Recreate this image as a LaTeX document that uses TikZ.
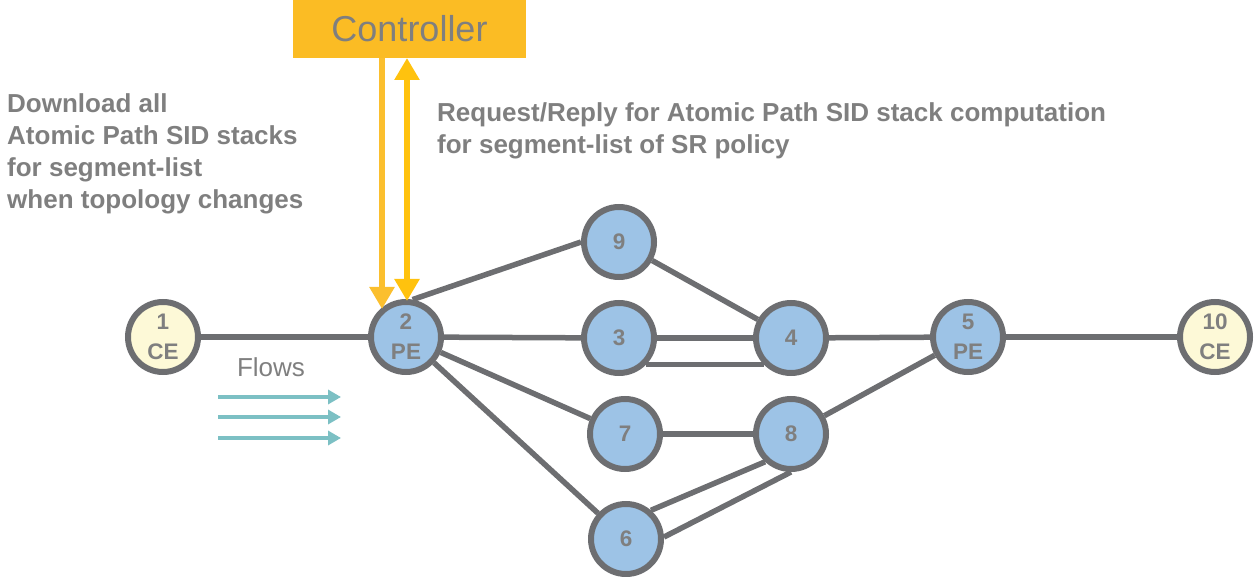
\documentclass[tikz,border=0pt]{standalone}
\usepackage{fontspec}
\setmainfont{Liberation Sans}
\usetikzlibrary{arrows.meta}
\definecolor{edgegray}{HTML}{6D6E71}
\definecolor{txtgray}{HTML}{7F7F7F}
\definecolor{nodeblue}{HTML}{9DC3E6}
\definecolor{nodecream}{HTML}{FDF9D7}
\definecolor{ctrlfill}{HTML}{FBBC24}
\definecolor{arrA}{HTML}{FBBF2E}
\definecolor{arrB}{HTML}{FFC20E}
\definecolor{flowteal}{HTML}{7CC0C4}
\tikzset{
  router/.style={circle, draw=edgegray, line width=6pt, fill=nodeblue, minimum size=70pt, inner sep=0pt,
     text=txtgray, font=\fontsize{22.5}{30}\selectfont\bfseries, align=center},
  cerouter/.style={router, fill=nodecream},
  link/.style={draw=edgegray, line width=5.5pt},
  note/.style={text=txtgray, font=\fontsize{26}{32}\selectfont\bfseries, align=left, inner sep=0pt, anchor=north west},
  flowarrow/.style={draw=flowteal, line width=4.5pt, -{Triangle[width=14pt,length=13pt]}},
  ctrlarrow/.style={line width=6pt},
}
\begin{document}
\begin{tikzpicture}[x=1pt,y=-1pt]
\useasboundingbox (0,0) rectangle (1255,577);
% controller
\node[fill=ctrlfill, minimum width=233pt, minimum height=58pt, inner sep=0pt, text=txtgray,
  font=\fontsize{36}{40}\selectfont] (ctrl) at (409.5,29) {Controller};
% routers
\node[cerouter] (n1) at (163,337) {1\\CE};
\node[router] (n2) at (406,337) {2\\PE};
\node[router] (n9) at (619,242) {9};
\node[router] (n3) at (619,338) {3};
\node[router] (n4) at (791,338) {4};
\node[router] (n7) at (625,434) {7};
\node[router] (n8) at (791,434) {8};
\node[router] (n6) at (626,539) {6};
\node[router] (n5) at (968,337) {5\\PE};
\node[cerouter] (n10) at (1215,337) {10\\CE};
% links
\draw[link] (n1) -- (n2);
\draw[link] (n2.80) -- (n9.west);
\draw[link] (n2) -- (n3);
\draw[link] (n2) -- (n7);
\draw[link] (n2) -- (n6);
\draw[link] (n9) -- (n4);
\draw[link] (n3) -- (n4);
\draw[link] (n3.-44) -- (n4.-136);
\draw[link] (n4) -- (n5);
\draw[link] (n7) -- (n8);
\draw[link] (n6.49) -- (n8.-133);
\draw[link] (n6.3) -- (n8.-90);
\draw[link] (n8) -- (n5);
\draw[link] (n5) -- (n10);
% controller arrows
\coordinate (dtop) at (382,58);
\coordinate (dbot) at (382,309);
\coordinate (rtop) at (407,58);
\coordinate (rbot) at (407,301);
\draw[ctrlarrow, draw=arrA, -{Triangle[width=24pt,length=22pt,fill=arrA]}] (dtop) -- (dbot);
\draw[ctrlarrow, draw=arrB, {Triangle[width=24pt,length=22pt,fill=arrB]}-{Triangle[width=24pt,length=22pt,fill=arrB]}] (rtop) -- (rbot);
% texts
\node[note] (tdl) at (7,93) {Download all\\Atomic Path SID stacks\\for segment-list\\when topology changes};
\node[note] (treq) at (437,102) {Request/Reply for Atomic Path SID stack computation\\for segment-list of SR policy};
\node[text=txtgray, font=\fontsize{26}{28}\selectfont, inner sep=0pt] (flows) at (271,367) {Flows};
% flow arrows
\coordinate (f1a) at (218,397); \coordinate (f1b) at (341,397);
\coordinate (f2a) at (218,417); \coordinate (f2b) at (341,417);
\coordinate (f3a) at (218,438); \coordinate (f3b) at (341,438);
\draw[flowarrow] (f1a) -- (f1b);
\draw[flowarrow] (f2a) -- (f2b);
\draw[flowarrow] (f3a) -- (f3b);
\end{tikzpicture}
\end{document}
